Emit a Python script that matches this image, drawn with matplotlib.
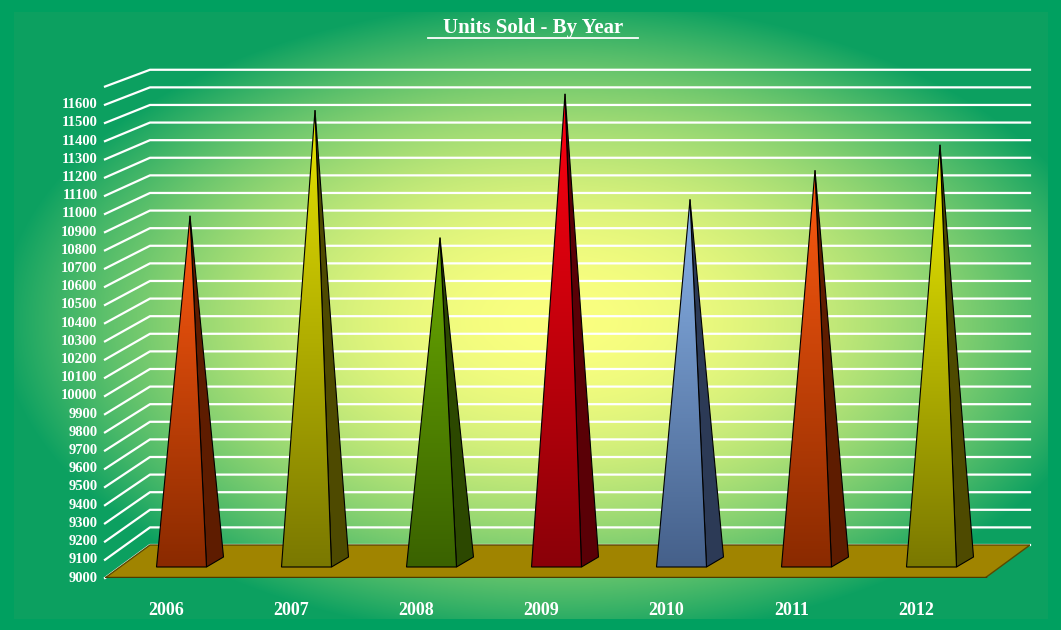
import numpy as np
import matplotlib
matplotlib.use("Agg")
import matplotlib.pyplot as plt
from matplotlib.patches import Polygon
from matplotlib.lines import Line2D

years = ["2006", "2007", "2008", "2009", "2010", "2011", "2012"]
units = [10990, 11570, 10870, 11660, 11080, 11240, 11380]
front_top = ["#ff5a10", "#e8e400", "#6aaa00", "#ff0010", "#8ab4ea", "#ff5a10", "#f0f000"]
front_bot = ["#8a2a00", "#7a7800", "#3a6200", "#8a0008", "#45608a", "#8a2a00", "#7a7800"]
side_col = ["#5e1c00", "#4e4a00", "#2c4800", "#5a0006", "#2c3a56", "#5e1c00", "#4e4a00"]
ticks = list(range(9000, 11601, 100))

fig = plt.figure(figsize=(10.61, 6.3), dpi=100)
fig.patch.set_facecolor("#00a060")

# background gradient
bg = fig.add_axes([0, 0, 1, 1], zorder=0)
bg.set_axis_off()
yy, xx = np.mgrid[0:630, 0:1061]
r = np.sqrt(((xx - 560) / 560.0) ** 2 + ((yy - 320) / 320.0) ** 2)
t = np.clip(r, 0, 1) ** 2.0
c0 = np.array([0.98, 1.0, 0.50])
c1 = np.array([0.05, 0.63, 0.38])
img = c0[None, None, :] * (1 - t[..., None]) + c1[None, None, :] * t[..., None]
mask = (xx < 14) | (xx > 1047) | (yy < 12) | (yy > 618)
img[mask] = np.array([0.0, 0.63, 0.38])
bg.imshow(img, extent=[0, 1061, 630, 0], aspect="auto")
bg.set_xlim(0, 1061)
bg.set_ylim(630, 0)

ax = fig.add_axes([105 / 1061, 52 / 630, 925 / 1061, 508 / 630], zorder=1)
ax.set_axis_off()
ax.patch.set_alpha(0)
xl, xr = -0.68, 6.72
ax.set_xlim(xl, xr)
ax.set_ylim(9000, 11791)
pxy = 0.182  # pixels per value unit
dxb, dyb = 45 / 125, 33 / pxy

# gridlines and tick labels
for v in ticks + [11700]:
    yb = 9000 + (v - 9000) * 17.6 / 18.2 + dyb
    ax.plot([xl, xl + dxb, xr], [v, yb, yb], color="white", lw=1.6, clip_on=False)
for v in ticks:
    ax.text(xl - 0.06, v, str(v), ha="right", va="center", color="white",
            fontsize=10.5, fontweight="bold", family="Liberation Serif", clip_on=False)

# floor
fl = Polygon([(xl, 9000), (xr - dxb, 9000), (xr, 9000 + dyb), (xl + dxb, 9000 + dyb)],
             closed=True, facecolor="#a08400", edgecolor="#5a4a00", lw=1, zorder=2)
ax.add_patch(fl)
ax.plot([xl, xr - dxb], [9000, 9000], color="#4a3c00", lw=2.5, zorder=2)

hw, ddx, ddy = 0.2, 0.068, 55
ybase = 9000 + 11 / pxy
for i, (v, ft, fb, sc) in enumerate(zip(units, front_top, front_bot, side_col)):
    c = i
    front = [(c - hw - ddx, ybase), (c + hw - ddx, ybase), (c, v)]
    side = [(c + hw - ddx, ybase), (c + hw + ddx, ybase + ddy), (c, v)]
    ax.add_patch(Polygon(side, closed=True, facecolor=sc, edgecolor="black", lw=0.8, zorder=3))
    g = np.linspace(0, 1, 200)[:, None, None]
    a = np.array(matplotlib.colors.to_rgb(fb))
    b = np.array(matplotlib.colors.to_rgb(ft))
    grad = a * (1 - g) + b * g
    im = ax.imshow(grad, extent=[c - hw - ddx, c + hw - ddx, ybase, v], origin="lower",
                   aspect="auto", zorder=3)
    p = Polygon(front, closed=True, facecolor="none", edgecolor="black", lw=0.8, zorder=4)
    ax.add_patch(p)
    im.set_clip_path(p)
    ax.text(c - 0.19, 9000 - 32 / pxy, years[i], ha="center", va="center", color="white",
            fontsize=13, fontweight="bold", family="Liberation Serif", clip_on=False)
ax.set_xlim(xl, xr)
ax.set_ylim(9000, 11791)

fig.text(533 / 1061, 1 - 28 / 630, "Units Sold - By Year", ha="center", va="center",
         color="white", fontsize=15, fontweight="bold", family="Liberation Serif")
fig.add_artist(Line2D([428 / 1061, 638 / 1061], [1 - 38 / 630, 1 - 38 / 630],
                      color="white", lw=1.3))

fig.savefig("out.png", dpi=100, facecolor=fig.get_facecolor())
